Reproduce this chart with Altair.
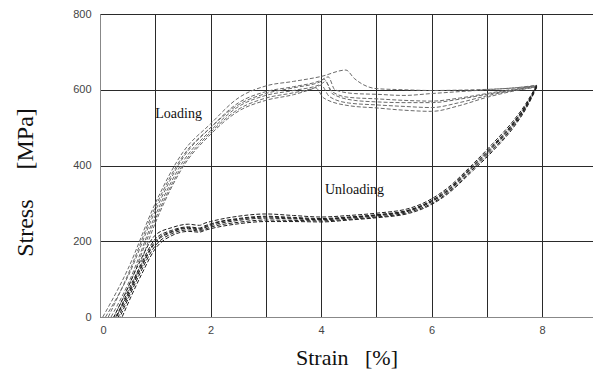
import altair as alt
import pandas as pd

# ---- Loading curves (strain %, stress MPa), six specimens ----
load_strain_1 = [0.05, 0.5, 1.0, 1.5, 2.0, 2.5, 3.0, 3.5, 4.0, 4.45, 4.6, 5.0, 5.5, 6.0, 6.5, 7.0, 7.5, 7.9]
load_stress_1 = [0, 125, 300, 435, 510, 578, 610, 622, 635, 652, 630, 603, 600, 598, 599, 601, 605, 612]
load_strain_2 = [0.1, 0.5, 1.0, 1.5, 2.0, 2.5, 3.0, 3.5, 4.0, 4.13, 4.25, 4.6, 5.0, 5.5, 6.0, 6.5, 7.0, 7.5, 7.9]
load_stress_2 = [0, 105, 280, 420, 500, 565, 595, 608, 625, 634, 600, 590, 588, 585, 590, 595, 600, 605, 610]
load_strain_3 = [0.2, 0.5, 1.0, 1.5, 2.0, 2.5, 3.0, 3.5, 4.0, 4.08, 4.2, 4.6, 5.0, 5.5, 6.0, 6.5, 7.0, 7.5, 7.9]
load_stress_3 = [0, 85, 268, 410, 492, 555, 585, 598, 615, 622, 590, 572, 568, 566, 566, 575, 588, 600, 609]
load_strain_4 = [0.25, 0.5, 1.0, 1.5, 2.0, 2.5, 3.0, 3.5, 3.9, 4.0, 4.15, 4.5, 5.0, 5.5, 6.0, 6.5, 7.0, 7.5, 7.9]
load_stress_4 = [0, 75, 258, 402, 487, 548, 578, 592, 606, 612, 582, 565, 560, 556, 553, 566, 584, 599, 608]
load_strain_5 = [0.3, 0.6, 1.0, 1.5, 2.0, 2.5, 3.0, 3.5, 3.8, 3.9, 4.05, 4.5, 5.0, 5.5, 6.0, 6.5, 7.0, 7.5, 7.9]
load_stress_5 = [0, 90, 248, 396, 482, 543, 572, 587, 600, 605, 578, 558, 552, 546, 543, 558, 580, 597, 607]
load_strain_6 = [0.15, 0.5, 1.0, 1.5, 2.0, 2.5, 3.0, 3.5, 4.0, 4.05, 4.2, 4.5, 5.0, 5.5, 6.0, 6.5, 7.0, 7.5, 7.9]
load_stress_6 = [0, 110, 290, 425, 500, 560, 590, 605, 622, 628, 595, 580, 576, 572, 570, 578, 590, 602, 611]

# ---- Unloading curves ----
unl_strain_1 = [7.9, 7.7, 7.5, 7.1, 6.7, 6.3, 6.0, 5.6, 5.0, 4.5, 4.0, 3.5, 3.0, 2.5, 2.0, 1.9, 1.8, 1.6, 1.3, 1.0, 0.7, 0.45, 0.25]
unl_stress_1 = [612, 562, 522, 457, 397, 342, 312, 287, 274, 268, 264, 268, 272, 266, 252, 248, 242, 245, 236, 216, 140, 60, 0]
unl_strain_2 = [7.9, 7.7, 7.5, 7.1, 6.7, 6.3, 6.0, 5.6, 5.0, 4.5, 4.0, 3.5, 3.0, 2.5, 2.0, 1.9, 1.8, 1.6, 1.3, 1.0, 0.7, 0.45, 0.3]
unl_stress_2 = [610, 558, 517, 452, 393, 338, 308, 283, 270, 264, 260, 263, 266, 260, 246, 241, 235, 238, 229, 206, 126, 50, 0]
unl_strain_3 = [7.9, 7.7, 7.5, 7.1, 6.7, 6.3, 6.0, 5.6, 5.0, 4.5, 4.0, 3.5, 3.0, 2.5, 2.0, 1.9, 1.8, 1.6, 1.3, 1.0, 0.7, 0.5, 0.33]
unl_stress_3 = [608, 554, 512, 446, 388, 333, 304, 280, 267, 261, 257, 259, 261, 255, 241, 236, 230, 234, 224, 196, 116, 52, 0]
unl_strain_4 = [7.9, 7.7, 7.5, 7.1, 6.7, 6.3, 6.0, 5.6, 5.0, 4.5, 4.0, 3.5, 3.0, 2.5, 2.0, 1.9, 1.8, 1.6, 1.3, 1.0, 0.7, 0.5, 0.36]
unl_stress_4 = [607, 551, 508, 441, 384, 329, 300, 277, 264, 258, 254, 255, 256, 250, 237, 232, 227, 230, 220, 188, 108, 45, 0]
unl_strain_5 = [7.9, 7.7, 7.5, 7.1, 6.7, 6.3, 6.0, 5.6, 5.0, 4.5, 4.0, 3.5, 3.0, 2.5, 2.0, 1.9, 1.8, 1.6, 1.3, 1.0, 0.75, 0.55, 0.4]
unl_stress_5 = [606, 548, 504, 437, 380, 326, 297, 274, 262, 256, 251, 252, 252, 246, 233, 229, 224, 226, 215, 180, 112, 50, 0]
unl_strain_6 = [7.9, 7.7, 7.5, 7.1, 6.7, 6.3, 6.0, 5.6, 5.0, 4.5, 4.0, 3.5, 3.0, 2.5, 2.0, 1.9, 1.8, 1.6, 1.3, 1.0, 0.7, 0.45, 0.28]
unl_stress_6 = [609, 556, 515, 449, 391, 335, 306, 282, 269, 263, 258, 261, 264, 258, 244, 238, 233, 236, 226, 200, 120, 45, 0]

# ---- Annotations ----
label_text = ["Loading", "Unloading"]
label_strain = [1.0, 4.07]
label_stress = [525, 325]

x_ticks = [0, 1, 2, 3, 4, 5, 6, 7, 8]
y_ticks = [0, 100, 200, 300, 400, 500, 600, 700, 800]

rows = []
loads = [(load_strain_1, load_stress_1), (load_strain_2, load_stress_2), (load_strain_3, load_stress_3),
         (load_strain_4, load_stress_4), (load_strain_5, load_stress_5), (load_strain_6, load_stress_6)]
unls = [(unl_strain_1, unl_stress_1), (unl_strain_2, unl_stress_2), (unl_strain_3, unl_stress_3),
        (unl_strain_4, unl_stress_4), (unl_strain_5, unl_stress_5), (unl_strain_6, unl_stress_6)]
for i, (xs, ys) in enumerate(loads):
    for j, (a, b) in enumerate(zip(xs, ys)):
        rows.append({"strain": a, "stress": b, "curve": f"L{i+1}", "kind": "Loading", "idx": j})
for i, (xs, ys) in enumerate(unls):
    for j, (a, b) in enumerate(zip(xs, ys)):
        rows.append({"strain": a, "stress": b, "curve": f"U{i+1}", "kind": "Unloading", "idx": j})
df = pd.DataFrame(rows)
labels_df = pd.DataFrame({"strain": label_strain, "stress": label_stress, "text": label_text})

xscale = alt.Scale(domain=[0, 8.92], nice=False, zero=False)
yscale = alt.Scale(domain=[0, 800], nice=False)

lines = alt.Chart(df).mark_line(strokeWidth=1, strokeDash=[4, 2], interpolate="monotone").encode(
    x=alt.X("strain:Q", scale=xscale,
            axis=alt.Axis(values=x_ticks, format="d",
                          labelExpr="datum.value % 2 == 0 ? datum.label : ''",
                          title="Strain\u00a0\u00a0\u00a0[%]", titleY=47, titleBaseline="alphabetic")),
    y=alt.Y("stress:Q", scale=yscale,
            axis=alt.Axis(values=y_ticks, format="d",
                          labelExpr="datum.value % 200 == 0 ? datum.label : ''",
                          title="Stress\u00a0\u00a0\u00a0\u00a0\u00a0[MPa]", titleX=-75, titleY=168,
                          titleAngle=270, titleAlign="center", titleBaseline="middle")),
    color=alt.Color("kind:N", scale=alt.Scale(domain=["Loading", "Unloading"], range=["#6a6a6a", "#1e1e1e"]),
                    legend=None),
    detail="curve:N",
    order="idx:Q",
)

texts = alt.Chart(labels_df).mark_text(font="Liberation Serif", fontSize=14, align="left",
                                       baseline="alphabetic", color="#111").encode(
    x=alt.X("strain:Q", scale=xscale),
    y=alt.Y("stress:Q", scale=yscale),
    text="text:N",
)

chart = alt.layer(lines, texts).properties(
    width=493, height=303,
    autosize=alt.AutoSizeParams(type="none"),
    padding={"left": 100, "top": 14, "right": 0, "bottom": 57},
    background="white",
).configure_view(stroke=None).configure_axis(
    grid=True, gridColor="#2a2a2a", gridWidth=1, gridOpacity=1,
    ticks=False, domainColor="#888", domainWidth=1,
    labelFont="Liberation Sans", labelFontSize=11, labelColor="#444",
    titleFont="Liberation Serif", titleFontSize=22, titleFontWeight="normal", titleColor="#111",
).configure_axisX(labelPadding=7).configure_axisY(labelPadding=9, titleFontSize=24)

chart.save("out.html", embed_options={"renderer": "svg", "actions": False})
